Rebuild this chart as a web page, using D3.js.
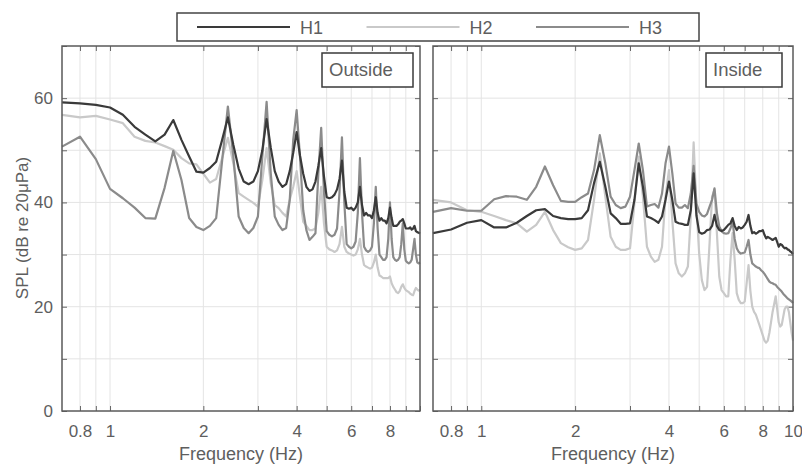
<!DOCTYPE html>
<html>
<head>
<meta charset="utf-8">
<script src="https://cdn.jsdelivr.net/npm/d3@7"></script>
<style>
  body { margin: 0; background: #fff; }
  svg text { font-family: "Liberation Sans", Arial, sans-serif; fill: #5e5e5e; }
</style>
</head>
<body>
<div id="main"></div>
<script>
///////////
// DATA  //
///////////

// frequency bins (Hz)
const freqs = [
  0.7, 0.8, 0.9, 1.0, 1.1, 1.2, 1.3, 1.4, 1.5, 1.6,
  1.7, 1.8, 1.9, 2.0, 2.1, 2.2, 2.3, 2.4, 2.5, 2.6,
  2.7, 2.8, 2.9, 3.0, 3.1, 3.2, 3.3, 3.4, 3.5, 3.6,
  3.7, 3.8, 3.9, 4.0, 4.1, 4.2, 4.3, 4.4, 4.5, 4.6,
  4.7, 4.8, 4.9, 5.0, 5.1, 5.2, 5.3, 5.4, 5.5, 5.6,
  5.7, 5.8, 5.9, 6.0, 6.1, 6.2, 6.3, 6.4, 6.5, 6.6,
  6.7, 6.8, 6.9, 7.0, 7.1, 7.2, 7.3, 7.4, 7.5, 7.6,
  7.7, 7.8, 7.9, 8.0, 8.1, 8.2, 8.3, 8.4, 8.5, 8.6,
  8.7, 8.8, 8.9, 9.0, 9.1, 9.2, 9.3, 9.4, 9.5, 9.6,
  9.7, 9.8, 9.9, 10.0
]

// Outside, SPL dB re 20uPa
const outside_h1 = [
  59.2, 59.0, 58.7, 58.2, 56.8, 54.5, 53.0, 51.7, 53.0, 55.8,
  52.0, 48.8, 45.9, 45.7, 46.6, 47.8, 52.0, 56.3, 51.0, 46.5,
  44.0, 43.5, 44.0, 46.0, 50.0, 56.0, 50.5, 46.0, 44.0, 43.0,
  43.5, 46.0, 49.5, 53.5, 49.0, 45.5, 43.0, 42.2, 42.5, 44.0,
  47.0, 50.4, 45.0, 41.0, 40.8, 41.0, 41.5, 42.5, 44.5, 48.0,
  42.0, 39.0, 38.8, 39.0, 38.5, 39.0, 40.0, 43.0, 39.5, 37.5,
  38.0, 37.5, 37.5, 37.0, 38.5, 41.0, 38.0, 36.5, 37.0, 36.5,
  36.5, 36.0, 37.0, 39.0, 37.0, 35.5, 35.5, 35.5, 35.8, 36.3,
  36.5, 36.8, 36.0, 35.0, 35.0, 35.0, 35.2, 34.8, 35.0, 35.5,
  34.5, 34.3, 34.2, 34.0
]
const outside_h2 = [
  56.8, 56.3, 56.6, 55.9, 55.2, 52.6, 51.8, 51.5, 50.8, 50.1,
  48.5, 47.5, 47.3, 45.5, 43.8, 44.5, 48.5, 52.4, 47.5, 41.8,
  41.1, 40.5, 39.9, 39.2, 44.3, 50.4, 43.7, 39.5, 38.9, 38.0,
  37.3, 40.5, 43.0, 46.0, 41.0, 36.3, 35.5, 34.7, 34.7, 35.0,
  38.0, 43.0, 36.0, 31.5, 31.0, 30.8, 30.5, 30.8, 32.0, 35.3,
  31.5, 30.5, 30.2, 30.0, 29.8, 30.0, 31.0, 33.0, 30.0, 28.0,
  27.7, 27.5, 27.3, 27.5, 28.5, 30.0, 27.5, 26.0, 25.8, 25.5,
  25.5, 25.5, 25.5, 25.8, 24.5, 23.8, 23.3, 22.8, 22.6, 23.0,
  23.8, 24.3, 23.6, 23.2, 23.0, 22.8, 22.5, 22.3, 22.2, 23.0,
  23.6, 23.3, 23.1, 23.2
]
const outside_h3 = [
  50.7, 52.6, 48.3, 42.6, 40.8, 39.0, 37.0, 36.9, 42.8, 49.9,
  44.3, 37.0, 35.3, 34.7, 35.5, 37.0, 48.0, 58.4, 48.8, 37.3,
  35.1, 34.1, 35.1, 37.3, 48.8, 59.3, 45.6, 37.3, 35.7, 34.7,
  35.1, 40.5, 52.0, 57.7, 48.8, 38.5, 34.7, 32.8, 33.4, 34.1,
  45.6, 54.3, 42.0, 34.5, 33.8, 33.5, 33.8, 35.0, 42.0, 52.5,
  40.0, 32.0, 31.5, 31.2, 31.5, 32.5, 38.0, 48.5, 38.0, 31.5,
  30.8, 30.5, 30.8, 31.5, 36.0, 43.0, 35.0, 30.0, 29.5, 29.0,
  29.0, 29.5, 33.0, 40.0, 33.0, 29.5, 29.0, 28.8, 29.0, 29.5,
  32.0, 36.0, 31.0, 28.8, 28.5, 28.3, 28.5, 29.0, 31.0, 33.0,
  30.0, 28.5, 28.3, 28.5
]

// Inside
const inside_h1 = [
  34.1, 34.8, 36.1, 36.6, 35.2, 35.2, 36.1, 37.4, 38.5, 38.7,
  37.4, 37.0, 36.8, 36.8, 37.0, 38.5, 43.7, 47.8, 43.0, 37.9,
  37.0, 35.9, 35.9, 36.0, 40.5, 47.5, 43.0, 37.3, 37.0, 36.6,
  36.1, 37.3, 40.5, 44.0, 40.5, 36.3, 36.0, 35.9, 35.7, 35.7,
  38.5, 45.6, 37.5, 34.3, 34.0, 34.2, 34.7, 34.8, 35.5, 37.6,
  35.5, 34.7, 34.5, 34.7, 35.2, 35.7, 36.0, 37.0, 35.5, 34.7,
  35.3, 35.0, 35.2, 35.7, 36.3, 37.6, 35.5, 34.1, 34.3, 34.0,
  34.2, 34.5, 34.5, 34.7, 33.8, 33.1, 33.4, 33.2, 33.0, 32.8,
  33.0, 33.2, 32.4, 31.5, 32.0, 31.9, 31.5, 31.2, 31.3, 31.0,
  30.9, 30.6, 30.4, 30.1
]
const inside_h2 = [
  40.5, 40.0, 38.5, 38.2, 37.4, 36.6, 36.0, 34.4, 35.7, 38.2,
  34.7, 32.2, 31.4, 30.9, 31.2, 32.8, 40.5, 49.4, 41.1, 33.4,
  31.5, 30.9, 30.9, 31.2, 39.8, 48.8, 41.1, 31.5, 29.6, 28.6,
  29.0, 31.5, 41.1, 46.2, 36.6, 28.3, 26.4, 25.8, 26.4, 27.7,
  37.3, 51.5, 39.2, 30.2, 25.1, 23.2, 23.8, 32.2, 41.1, 42.4,
  34.1, 25.8, 23.2, 22.6, 22.0, 22.0, 29.0, 34.1, 29.0, 22.6,
  21.3, 20.7, 20.7, 21.0, 24.5, 28.0, 23.0, 20.0, 19.0, 18.5,
  17.5, 16.5, 15.5, 14.5, 13.5, 13.1, 13.5, 15.0, 17.0, 19.0,
  20.5, 22.0, 19.5, 17.0, 16.2, 16.5, 18.0, 19.5, 20.0, 20.0,
  19.0, 17.0, 15.0, 13.5
]
const inside_h3 = [
  38.2, 38.9, 38.4, 38.4, 40.6, 41.2, 41.1, 40.5, 43.0, 46.9,
  43.3, 40.3, 40.1, 40.1, 41.0, 41.7, 46.2, 52.9, 47.5, 41.1,
  39.5, 38.9, 39.2, 41.1, 46.2, 51.3, 46.2, 39.2, 39.5, 39.7,
  39.0, 41.7, 47.5, 50.7, 45.6, 39.8, 39.0, 39.0, 39.5, 38.9,
  41.7, 47.0, 39.8, 38.2, 37.5, 37.3, 37.8, 39.2, 40.5, 42.7,
  38.0, 35.4, 34.5, 34.1, 34.0, 34.1, 35.0, 36.3, 33.0, 31.2,
  30.5, 30.2, 30.3, 30.4, 31.5, 32.8, 30.0, 28.3, 28.0, 27.7,
  27.5, 27.4, 27.0, 26.7, 26.3, 25.8, 25.3, 24.8, 24.6, 24.5,
  24.3, 24.2, 23.8, 23.5, 23.2, 22.9, 22.5, 22.2, 21.9, 21.6,
  21.4, 21.2, 21.0, 20.7
]

const series_names = ['H1', 'H2', 'H3']
const x_grid = [0.8, 0.9, 1, 2, 3, 4, 5, 6, 7, 8, 9]
const x_labels_left = [0.8, 1, 2, 4, 6, 8]
const x_labels_right = [0.8, 1, 2, 4, 6, 8, 10]
const y_ticks = [0, 10, 20, 30, 40, 50, 60, 70]
const y_labels = [0, 20, 40, 60]

///////////
// SETUP //
///////////

const width = 802
const height = 465

const colors = { H1: '#3a3a3a', H2: '#c9c9c9', H3: '#8b8b8b' }
const frame = '#5a5a5a'
const grid = '#e4e4e4'
const text_color = '#5e5e5e'

let svg = d3.select('#main').append('svg')
    .attr('width', width)
    .attr('height', height)

let y = d3.scaleLinear()
    .domain([0, 70])
    .range([411, 46])

//////////
// DRAW //
//////////

draw_panel({
    left: 62, right: 420, label: 'Outside', box: [322, 53, 91, 34],
    labels: x_labels_left, yLabels: true,
    data: { H1: outside_h1, H2: outside_h2, H3: outside_h3 }
})
draw_panel({
    left: 433, right: 793, label: 'Inside', box: [706, 53, 76, 34],
    labels: x_labels_right, yLabels: false,
    data: { H1: inside_h1, H2: inside_h2, H3: inside_h3 }
})
draw_legend()

svg.append('text')
    .attr('transform', 'translate(28,228) rotate(-90)')
    .attr('text-anchor', 'middle')
    .style('font-size', '17px')
    .text('SPL (dB re 20\u03bcPa)')

function draw_panel(p){
    let x = d3.scaleLog()
        .domain([0.7, 10])
        .range([p.left, p.right])
    let g = svg.append('g')

    // grid
    g.selectAll('line.vgrid')
        .data(x_grid)
        .enter().append('line')
            .attr('x1', d => x(d)).attr('x2', d => x(d))
            .attr('y1', y(70)).attr('y2', y(0))
            .attr('stroke', grid)
    g.selectAll('line.hgrid')
        .data(y_ticks.slice(1, -1))
        .enter().append('line')
            .attr('x1', p.left).attr('x2', p.right)
            .attr('y1', d => y(d)).attr('y2', d => y(d))
            .attr('stroke', grid)

    // axes
    let fmt = list => d => list.includes(d) ? d3.format('')(d) : ''
    let bottom = g.append('g')
        .attr('transform', `translate(0,${y(0)})`)
        .call(d3.axisBottom(x).tickValues(x_grid.concat([10]))
            .tickSizeInner(-5).tickSizeOuter(0).tickPadding(14)
            .tickFormat(fmt(p.labels)))
    let top = g.append('g')
        .attr('transform', `translate(0,${y(70)})`)
        .call(d3.axisTop(x).tickValues(x_grid).tickSizeInner(-5).tickSizeOuter(0).tickFormat(''))
    let leftAx = g.append('g')
        .attr('transform', `translate(${p.left},0)`)
        .call(d3.axisLeft(y).tickValues(y_ticks).tickSizeInner(-5).tickSizeOuter(0).tickPadding(9)
            .tickFormat(p.yLabels ? fmt(y_labels) : ''))
    let rightAx = g.append('g')
        .attr('transform', `translate(${p.right},0)`)
        .call(d3.axisRight(y).tickValues(y_ticks).tickSizeInner(-5).tickSizeOuter(0).tickFormat(''))

    ;[bottom, top, leftAx, rightAx].forEach(a => {
        a.select('.domain').remove()
        a.selectAll('line').attr('stroke', '#666')
        a.selectAll('text')
            .style('font-size', '17px')
            .style('font-family', '"Liberation Sans", Arial, sans-serif')
            .attr('fill', text_color)
    })

    // lines
    let line = d3.line()
        .x((d, i) => x(freqs[i]))
        .y(d => y(d))
    ;['H2', 'H3', 'H1'].forEach(name => {
        g.append('path')
            .datum(p.data[name])
            .attr('d', line)
            .attr('fill', 'none')
            .attr('stroke', colors[name])
            .attr('stroke-width', 2.2)
            .attr('stroke-linejoin', 'round')
    })

    // frame
    g.append('rect')
        .attr('x', p.left).attr('y', y(70))
        .attr('width', p.right - p.left).attr('height', y(0) - y(70))
        .attr('fill', 'none')
        .attr('stroke', frame)
        .attr('stroke-width', 1.5)

    // label box
    g.append('rect')
        .attr('x', p.box[0]).attr('y', p.box[1])
        .attr('width', p.box[2]).attr('height', p.box[3])
        .attr('fill', '#fff')
        .attr('stroke', '#3a3a3a')
        .attr('stroke-width', 1.5)
    g.append('text')
        .attr('x', p.box[0] + 7)
        .attr('y', p.box[1] + 23)
        .style('font-size', '18.5px')
        .text(p.label)

    // x label
    g.append('text')
        .attr('x', (p.left + p.right) / 2)
        .attr('y', 460)
        .attr('text-anchor', 'middle')
        .style('font-size', '18px')
        .text('Frequency (Hz)')
}

function draw_legend(){
    let lg = svg.append('g')
    lg.append('rect')
        .attr('x', 177).attr('y', 13)
        .attr('width', 522).attr('height', 28)
        .attr('fill', '#fff')
        .attr('stroke', '#444')
        .attr('stroke-width', 1.5)

    let pos = d3.scalePoint()
        .domain(series_names)
        .range([197, 536])

    let item = lg.selectAll('g.item')
        .data(series_names)
        .enter().append('g')
            .attr('transform', d => `translate(${pos(d)},27)`)
    item.append('line')
        .attr('x1', 0).attr('x2', 93)
        .attr('stroke', d => colors[d])
        .attr('stroke-width', 2)
    item.append('text')
        .attr('x', 103)
        .attr('y', 7)
        .style('font-size', '18px')
        .text(d => d)
}
</script>
</body>
</html>
